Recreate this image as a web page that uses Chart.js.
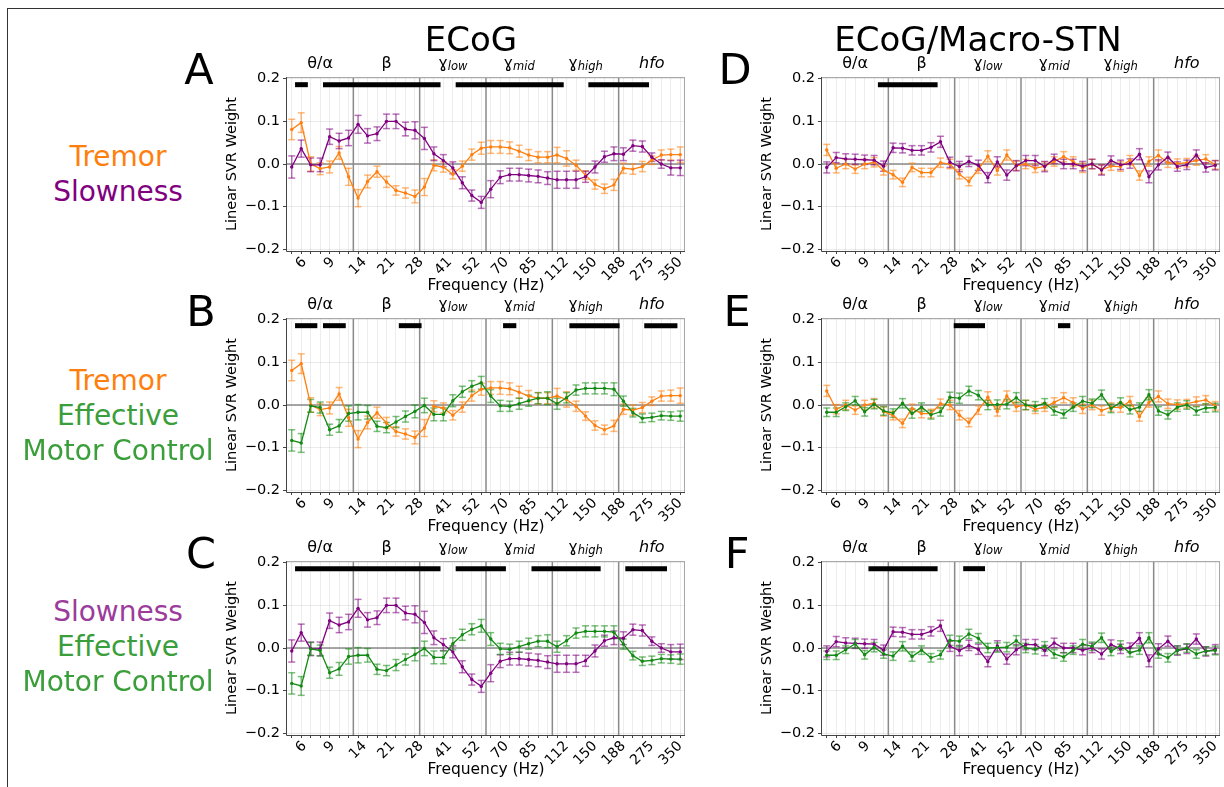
<!DOCTYPE html>
<html><head><meta charset="utf-8">
<script src="https://cdn.jsdelivr.net/npm/chart.js@4.4.1/dist/chart.umd.min.js"></script>
<style>
html,body{margin:0;padding:0;background:#fff;}
body{width:1224px;height:787px;overflow:hidden;position:relative;font-family:"DejaVu Sans",sans-serif;}
.frame{position:absolute;left:7px;top:8px;width:1400px;height:1000px;border-left:1px solid #333;border-top:1px solid #333;}
.t{position:absolute;white-space:nowrap;line-height:1;transform:translateX(-50%);}
canvas{position:absolute;}
</style></head><body>
<div class="frame"></div>
<script>
// ---------------- DATA ----------------
const tickLabels = ['6','9','14','21','28','41','52','70','85','112','150','188','275','350'];
const bandNames = [['θ/α',''],['β',''],['ɣ','low'],['ɣ','mid'],['ɣ','high'],['hfo','']];
const bandSizes = [7,7,7,7,7,7];
const yTicks = [-0.2,-0.1,0.0,0.1,0.2];
const sigLevel = 0.186;

const ecogTremor = [0.081,0.097,0.000,-0.011,-0.007,0.026,-0.030,-0.080,-0.041,-0.018,-0.042,-0.062,-0.068,-0.076,-0.054,-0.003,-0.007,-0.024,-0.005,0.022,0.037,0.040,0.040,0.038,0.030,0.021,0.016,0.016,0.021,0.013,-0.003,-0.026,-0.048,-0.058,-0.049,-0.010,-0.012,-0.006,0.009,0.021,0.022,0.022];
const ecogTremorErr = [0.024,0.023,0.017,0.014,0.014,0.015,0.020,0.020,0.015,0.013,0.013,0.011,0.012,0.015,0.020,0.013,0.012,0.011,0.012,0.013,0.014,0.015,0.015,0.014,0.014,0.013,0.013,0.013,0.018,0.018,0.012,0.010,0.011,0.011,0.013,0.012,0.012,0.012,0.010,0.012,0.013,0.018];
const ecogSlow = [-0.007,0.036,-0.002,-0.002,0.064,0.054,0.061,0.093,0.066,0.071,0.100,0.100,0.082,0.079,0.060,0.024,0.008,-0.009,-0.044,-0.074,-0.090,-0.059,-0.031,-0.025,-0.025,-0.027,-0.029,-0.033,-0.037,-0.037,-0.037,-0.030,-0.007,0.017,0.024,0.023,0.043,0.041,0.016,0.000,-0.009,-0.009];
const ecogSlowErr = [0.026,0.020,0.016,0.016,0.018,0.018,0.018,0.021,0.017,0.016,0.017,0.017,0.016,0.020,0.026,0.016,0.014,0.014,0.014,0.013,0.014,0.020,0.015,0.015,0.015,0.015,0.015,0.015,0.020,0.020,0.020,0.013,0.014,0.013,0.016,0.015,0.013,0.013,0.010,0.010,0.017,0.018];
const ecogEMC = [-0.083,-0.089,-0.002,-0.006,-0.058,-0.049,-0.020,-0.017,-0.017,-0.050,-0.053,-0.040,-0.027,-0.015,-0.001,-0.022,-0.022,0.010,0.031,0.044,0.052,0.021,-0.002,-0.003,0.003,0.010,0.016,0.016,0.003,0.017,0.035,0.039,0.039,0.039,0.037,0.009,-0.018,-0.031,-0.029,-0.025,-0.026,-0.026];
const ecogEMCErr = [0.025,0.022,0.015,0.013,0.013,0.015,0.018,0.018,0.016,0.012,0.012,0.013,0.013,0.015,0.017,0.015,0.015,0.014,0.013,0.013,0.015,0.015,0.013,0.012,0.013,0.013,0.013,0.015,0.013,0.012,0.012,0.013,0.013,0.013,0.015,0.012,0.010,0.010,0.010,0.010,0.010,0.012];

const stnTremor = [0.033,-0.010,0.000,-0.012,0.000,0.004,-0.015,-0.025,-0.043,-0.008,-0.020,-0.020,0.003,0.000,-0.024,-0.041,-0.012,0.018,-0.015,0.021,-0.004,0.000,-0.010,-0.005,0.006,0.017,0.006,-0.009,0.000,-0.013,-0.005,-0.006,0.009,-0.027,0.006,0.020,0.003,0.001,0.003,0.008,0.012,-0.002];
const stnTremorErr = [0.013,0.011,0.011,0.010,0.011,0.011,0.011,0.010,0.010,0.010,0.010,0.010,0.011,0.011,0.011,0.010,0.010,0.013,0.011,0.012,0.011,0.011,0.010,0.010,0.011,0.012,0.011,0.011,0.011,0.011,0.010,0.011,0.011,0.011,0.011,0.013,0.011,0.011,0.010,0.011,0.010,0.010];
const stnSlow = [-0.008,0.015,0.012,0.011,0.010,0.009,-0.005,0.038,0.037,0.032,0.032,0.039,0.052,0.004,-0.006,0.006,-0.003,-0.032,0.005,-0.026,-0.004,0.008,0.008,-0.006,0.012,0.000,0.000,-0.005,0.000,-0.014,0.008,-0.002,0.001,0.023,-0.030,-0.002,0.016,-0.006,-0.002,0.021,-0.008,-0.003];
const stnSlowErr = [0.013,0.012,0.012,0.012,0.011,0.011,0.012,0.011,0.011,0.011,0.011,0.011,0.013,0.012,0.012,0.012,0.012,0.012,0.012,0.012,0.012,0.012,0.012,0.012,0.011,0.011,0.011,0.011,0.011,0.012,0.011,0.011,0.011,0.013,0.014,0.012,0.012,0.011,0.011,0.012,0.011,0.011];
const stnEMC = [-0.017,-0.017,-0.004,0.010,-0.016,0.002,-0.014,-0.019,0.004,-0.020,-0.005,-0.023,-0.016,0.018,0.016,0.033,0.023,0.000,0.001,0.002,0.017,0.000,-0.003,0.004,-0.014,-0.021,-0.005,0.009,0.004,0.024,-0.008,0.006,-0.011,-0.005,0.024,-0.014,-0.023,-0.005,0.000,-0.014,-0.007,-0.006];
const stnEMCErr = [0.010,0.010,0.009,0.010,0.010,0.011,0.010,0.010,0.011,0.011,0.010,0.010,0.010,0.012,0.012,0.011,0.011,0.011,0.011,0.011,0.012,0.011,0.011,0.011,0.010,0.010,0.010,0.011,0.010,0.011,0.010,0.011,0.010,0.010,0.012,0.010,0.010,0.010,0.010,0.010,0.010,0.010];

const sigA = [[0.35,1.7],[3.3,15.7],[17.3,28.7],[31.3,37.7]];
const sigB = [[0.35,2.7],[3.3,5.7],[11.3,13.7],[22.3,23.7],[29.3,34.6],[37.2,40.7]];
const sigC = [[0.35,15.7],[17.3,22.6],[25.3,32.6],[35.2,39.6]];
const sigD = [[5.4,11.7]];
const sigE = [[13.4,16.7],[24.4,25.7]];
const sigF = [[4.4,11.7],[14.4,16.7]];

// ---------------- STYLE ----------------
const C_OR = '#ff7f0e', C_PU = '#800080', C_GR = '#138a13';
const E_OR = 'rgba(255,127,14,0.55)', E_PU = 'rgba(128,0,128,0.55)', E_GR = 'rgba(19,138,19,0.55)';

Chart.defaults.font.family = '"DejaVu Sans", sans-serif';
Chart.defaults.color = '#000';

function mk(vals, errs, col, ecol) {
  return {data: vals.map((v,i)=>({x:i, y:v})), err: errs, errColor: ecol,
    borderColor: col, backgroundColor: col, borderWidth: 1.3, pointRadius: 1.7,
    pointBorderWidth: 0, pointBackgroundColor: col, tension: 0, fill: false};
}

function line(ctx,x1,y1,x2,y2){ctx.beginPath();ctx.moveTo(x1,y1);ctx.lineTo(x2,y2);ctx.stroke();}

const XT = 14;
const decor = {
  id: 'decor',
  beforeDatasetsDraw(chart) {
    const {ctx, chartArea: a, scales: {x, y}} = chart;
    const p = chart.options.plugins.decor;
    ctx.save();
    ctx.beginPath(); ctx.rect(a.left, a.top, a.right-a.left, a.bottom-a.top); ctx.clip();
    ctx.strokeStyle = '#8a8a8a'; ctx.lineWidth = 1.5;
    const y0 = y.getPixelForValue(0);
    line(ctx, a.left, y0, a.right, y0);
    let acc = -0.5;
    bandSizes.forEach(n => { acc += n; const px = x.getPixelForValue(acc); line(ctx, px, a.top, px, a.bottom); });
    ctx.strokeStyle = '#000'; ctx.lineWidth = 5; ctx.lineCap = 'butt';
    const ys = y.getPixelForValue(sigLevel);
    p.sig.forEach(([s,e]) => line(ctx, x.getPixelForValue(s), ys, x.getPixelForValue(e), ys));
    const dss = chart.data.datasets;
    for (let k = dss.length-1; k >= 0; k--) {
      const ds = dss[k];
      ctx.strokeStyle = ds.errColor; ctx.lineWidth = 1.5;
      ds.data.forEach((pt, i) => {
        const e = ds.err[i], px = x.getPixelForValue(pt.x);
        const y1 = y.getPixelForValue(pt.y - e), y2 = y.getPixelForValue(pt.y + e);
        line(ctx, px, y1, px, y2);
        line(ctx, px-3.5, y1, px+3.5, y1);
        line(ctx, px-3.5, y2, px+3.5, y2);
      });
    }
    ctx.restore();
  },
  afterDraw(chart) {
    const {ctx, chartArea: a, scales: {x, y}} = chart;
    ctx.save();
    ctx.lineWidth = 1;
    ctx.strokeStyle = '#aaa'; line(ctx, a.left, a.top+0.5, a.right, a.top+0.5);
    ctx.strokeStyle = '#444';
    line(ctx, a.left-0.5, a.top, a.left-0.5, a.bottom+0.5);
    line(ctx, a.left-0.5, a.bottom+0.5, a.right, a.bottom+0.5);
    ctx.fillStyle = '#000';
    ctx.font = XT + 'px "DejaVu Sans"';
    ctx.textAlign = 'center'; ctx.textBaseline = 'middle';
    tickLabels.forEach((lab, k) => {
      const px = x.getPixelForValue(1 + 3*k);
      const w = ctx.measureText(lab).width;
      const hbox = (w + XT*0.8) * Math.SQRT1_2;
      ctx.save();
      ctx.translate(px, a.bottom + 5 + hbox/2);
      ctx.rotate(-Math.PI/4);
      ctx.fillText(lab, 0, 0);
      ctx.restore();
    });
    ctx.font = '15.5px "DejaVu Sans"'; ctx.textBaseline = 'alphabetic';
    ctx.fillText('Frequency (Hz)', (a.left+a.right)/2, a.bottom + 39);
    ctx.save();
    ctx.translate(a.left - 55, (a.top+a.bottom)/2);
    ctx.rotate(-Math.PI/2);
    ctx.font = '14.5px "DejaVu Sans"'; ctx.textBaseline = 'middle';
    ctx.fillText('Linear SVR Weight', 0, 0);
    ctx.restore();
    let acc = -0.5;
    bandNames.forEach(([main, sub], k) => {
      const c = x.getPixelForValue(acc + bandSizes[k]/2); acc += bandSizes[k];
      const bl = a.top - 9;
      ctx.textBaseline = 'alphabetic'; ctx.textAlign = 'left';
      const mf = (main === 'hfo') ? 'italic 16px "DejaVu Sans"' : '16px "DejaVu Sans"';
      ctx.font = mf; const mw = ctx.measureText(main).width;
      ctx.font = 'italic 11.5px "DejaVu Sans"'; const sw = sub ? ctx.measureText(sub).width : 0;
      const start = c - (mw + sw)/2;
      ctx.font = mf; ctx.fillText(main, start, bl);
      if (sub) { ctx.font = 'italic 11.5px "DejaVu Sans"'; ctx.fillText(sub, start + mw, bl + 2); }
    });
    ctx.restore();
  }
};

function makePanel(l, t, datasets, sig) {
  const W = 400, H = 174, padL = 80, padT = 30, padB = 60, padR = 2;
  const cv = document.createElement('canvas');
  cv.width = W + padL + padR; cv.height = H + padT + padB;
  cv.style.left = (l - padL) + 'px'; cv.style.top = (t - padT) + 'px';
  cv.style.width = cv.width + 'px'; cv.style.height = cv.height + 'px';
  document.body.appendChild(cv);
  new Chart(cv, {
    type: 'line',
    data: {datasets},
    options: {
      responsive: false, animation: false, devicePixelRatio: 1,
      layout: {padding: {left: 0, top: padT, right: padR, bottom: 0}},
      plugins: {legend: {display: false}, tooltip: {enabled: false}, decor: {sig}},
      scales: {
        x: {type: 'linear', min: -0.5, max: 41.5,
            afterBuildTicks: s => { s.ticks = ecogTremor.map((_, i) => ({value: i})); },
            afterFit: s => { s.height = padB; },
            ticks: {display: false, autoSkip: false},
            border: {display: false},
            grid: {color: 'rgba(0,0,0,0.07)', lineWidth: 1, tickColor: '#444', tickLength: 3, tickWidth: 1}},
        y: {type: 'linear', min: -0.204, max: 0.204,
            afterBuildTicks: s => { s.ticks = yTicks.map(v => ({value: v})); },
            afterFit: s => { s.width = padL; },
            ticks: {font: {size: 14.5}, color: '#000', padding: 3,
                    callback: v => (Math.abs(v) < 1e-9 ? '0.0' : v.toFixed(1).replace('-', '\u2212'))},
            border: {display: false},
            grid: {color: 'rgba(0,0,0,0.08)', lineWidth: 1, tickColor: '#444', tickLength: 4, tickWidth: 1}}
      }
    },
    plugins: [decor]
  });
}

const L1 = 287, L2 = 822, T1 = 77, T2 = 318, T3 = 561;
makePanel(L1, T1, [mk(ecogSlow, ecogSlowErr, C_PU, E_PU), mk(ecogTremor, ecogTremorErr, C_OR, E_OR)], sigA);
makePanel(L1, T2, [mk(ecogEMC, ecogEMCErr, C_GR, E_GR), mk(ecogTremor, ecogTremorErr, C_OR, E_OR)], sigB);
makePanel(L1, T3, [mk(ecogEMC, ecogEMCErr, C_GR, E_GR), mk(ecogSlow, ecogSlowErr, C_PU, E_PU)], sigC);
makePanel(L2, T1, [mk(stnSlow, stnSlowErr, C_PU, E_PU), mk(stnTremor, stnTremorErr, C_OR, E_OR)], sigD);
makePanel(L2, T2, [mk(stnEMC, stnEMCErr, C_GR, E_GR), mk(stnTremor, stnTremorErr, C_OR, E_OR)], sigE);
makePanel(L2, T3, [mk(stnEMC, stnEMCErr, C_GR, E_GR), mk(stnSlow, stnSlowErr, C_PU, E_PU)], sigF);

// ---------------- TEXT ----------------
function txt(s, cx, baseline, size, color) {
  const d = document.createElement('div');
  d.className = 't'; d.textContent = s;
  d.style.fontSize = size + 'px'; d.style.color = color;
  d.style.left = cx + 'px'; d.style.top = (baseline - 0.846*size) + 'px';
  document.body.appendChild(d);
}
txt('ECoG', 471, 51, 34, '#000');
txt('ECoG/Macro-STN', 978, 51, 34, '#000');
[['A',199,84],['B',201,326],['C',201,568],['D',735,84],['E',737,326],['F',737,568]].forEach(([s,x,b]) => txt(s, x, b, 43, '#000'));
txt('Tremor', 118, 167, 28, '#ff7f0e');
txt('Slowness', 118, 202, 28, '#800080');
txt('Tremor', 118, 391, 28, '#ff7f0e');
txt('Effective', 118, 426, 28, '#3a9e3a');
txt('Motor Control', 118, 461, 28, '#3a9e3a');
txt('Slowness', 118, 622, 28, '#9b3b9b');
txt('Effective', 118, 657, 28, '#3a9e3a');
txt('Motor Control', 118, 692, 28, '#3a9e3a');
</script>
</body></html>
